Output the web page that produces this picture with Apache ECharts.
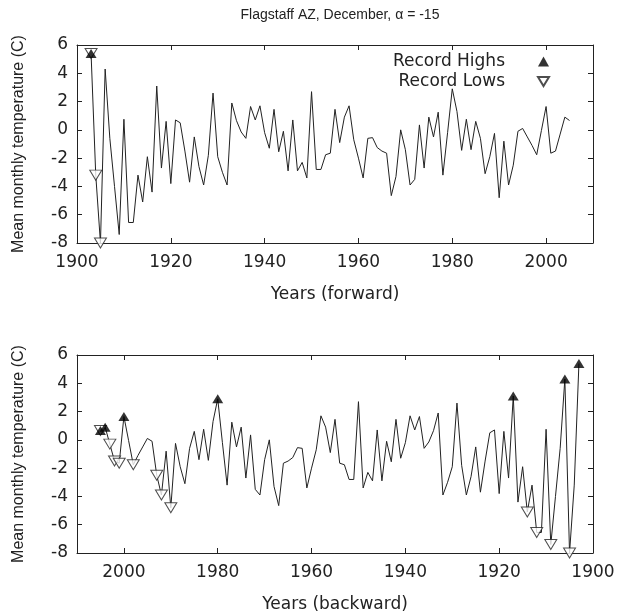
<!DOCTYPE html>
<html><head><meta charset="utf-8">
<script src="https://cdn.jsdelivr.net/npm/echarts@6/dist/echarts.min.js"></script>
<style>html,body{margin:0;padding:0;background:#fff}#c{width:628px;height:615px}</style>
</head><body><div id="c"></div>
<script>
const titleText = 'Flagstaff AZ, December, \u03b1 = -15';
const firstYear = 1903;
// December mean temperatures (C), 1903..2005
const temps = [
  5.4, -3.2, -8.0, 4.3, -0.6, -4.0, -7.4, 0.75, -6.55, -6.55,
  -3.2, -5.1, -1.9, -4.4, 3.1, -2.7, 0.6, -3.8, 0.7, 0.5,
  -1.5, -3.7, -0.5, -2.6, -3.9, -1.8, 2.6, -1.9, -3.0, -3.9,
  1.9, 0.65, -0.15, -0.6, 1.65, 0.7, 1.7, -0.2, -1.3, 1.45,
  -1.55, -0.1, -2.9, 0.7, -2.9, -2.3, -3.4, 2.7, -2.8, -2.8,
  -1.76, -1.65, 1.45, -0.9, 0.9, 1.7, -0.7, -2.0, -3.4, -0.6,
  -0.55, -1.25, -1.5, -1.65, -4.65, -3.3, 0.0, -1.4, -3.9, -3.5,
  0.35, -2.7, 0.9, -0.5, 1.25, -3.2, -0.2, 2.9, 1.3, -1.45,
  0.75, -1.4, 0.6, -0.6, -3.1, -1.9, -0.25, -4.8, -0.8, -3.9,
  -2.5, -0.1, 0.1, -0.5, -1.1, -1.76, -0.05, 1.65, -1.65, -1.5,
  -0.3, 0.9, 0.66
];
const years = temps.map((_, i) => firstYear + i);
const yTicks = { min: -8, max: 6, step: 2 };
const xTicks = { min: 1900, max: 2010, step: 20 };
const labels = {
  yName: 'Mean monthly temperature (C)',
  xTop: 'Years (forward)',
  xBottom: 'Years (backward)',
  highs: 'Record Highs',
  lows: 'Record Lows'
};

// records, computed from the data
function records(order) {
  const hi = [], lo = [];
  let mx = -Infinity, mn = Infinity;
  order.forEach(i => {
    const v = temps[i];
    if (v > mx) { mx = v; hi.push([years[i], v]); }
    if (v < mn) { mn = v; lo.push([years[i], v]); }
  });
  return { hi, lo };
}
const idx = temps.map((_, i) => i);
const fwd = records(idx);
const bwd = records(idx.slice().reverse());
const lineData = years.map((y, i) => [y, temps[i]]);

const FONT = "'Liberation Sans', Arial, sans-serif";
const WFONT = "'DejaVu Sans', sans-serif";
const INK = '#222';
const downTri = 'path://M0,0 L12,0 L6,10 Z';

function xAx(gi, inverse, isMirror, name) {
  return {
    type: 'value', gridIndex: gi, min: xTicks.min, max: xTicks.max, interval: xTicks.step,
    inverse: inverse, position: isMirror ? 'top' : 'bottom',
    name: isMirror ? '' : name, nameLocation: 'middle', nameGap: 43,
    nameTextStyle: { fontFamily: WFONT, fontSize: 17, color: INK },
    axisLine: { show: true, onZero: false, lineStyle: { color: INK, width: 1 } },
    axisTick: { show: true, inside: true, length: 5, lineStyle: { color: INK } },
    axisLabel: { show: !isMirror, fontFamily: WFONT, fontSize: 17, color: INK, margin: 11,
      showMaxLabel: false, formatter: v => String(v) },
    splitLine: { show: false }
  };
}
function yAx(gi, isMirror) {
  return {
    type: 'value', gridIndex: gi, min: yTicks.min, max: yTicks.max, interval: yTicks.step,
    position: isMirror ? 'right' : 'left',
    name: isMirror ? '' : labels.yName, nameLocation: 'middle', nameGap: 50,
    nameTextStyle: { fontFamily: FONT, fontSize: 16, color: INK },
    axisLine: { show: true, onZero: false, lineStyle: { color: INK, width: 1 } },
    axisTick: { show: true, inside: true, length: 5, lineStyle: { color: INK } },
    axisLabel: { show: !isMirror, fontFamily: WFONT, fontSize: 17, color: INK, margin: 9,
      formatter: v => String(v) },
    splitLine: { show: false }
  };
}
function lineSeries(xi, yi) {
  return { type: 'line', xAxisIndex: xi, yAxisIndex: yi, data: lineData, showSymbol: false,
    symbol: 'none', lineStyle: { color: INK, width: 1 }, z: 2, animation: false, silent: true };
}
function hiSeries(xi, yi, d) {
  return { name: labels.highs, type: 'scatter', xAxisIndex: xi, yAxisIndex: yi, data: d,
    symbol: 'triangle', symbolSize: [11, 9], itemStyle: { color: '#000' }, z: 4, animation: false };
}
function loSeries(xi, yi, d) {
  return { name: labels.lows, type: 'scatter', xAxisIndex: xi, yAxisIndex: yi, data: d,
    symbol: downTri, symbolSize: [12, 10],
    itemStyle: { color: '#fff', borderColor: INK, borderWidth: 1 }, z: 3, animation: false };
}

const chart = echarts.init(document.getElementById('c'), null, { renderer: 'canvas' });
chart.setOption({
  backgroundColor: '#fff',
  animation: false,
  title: { text: titleText, left: 335, top: 3, textAlign: 'center',
    textStyle: { fontFamily: FONT, fontSize: 14, fontWeight: 'normal', color: INK } },
  legend: {
    data: [labels.highs, labels.lows], orient: 'vertical', align: 'right',
    right: 78, top: 53, padding: 0, itemWidth: 11, itemHeight: 10, itemGap: 3,
    textStyle: { fontFamily: WFONT, fontSize: 17, color: INK, padding: [0, 28, 0, 0] },
    selectedMode: false
  },
  grid: [
    { left: 77, right: 35, top: 45, height: 198 },
    { left: 77, right: 35, top: 355, height: 198 }
  ],
  xAxis: [
    xAx(0, false, false, labels.xTop), xAx(0, false, true, ''),
    xAx(1, true, false, labels.xBottom), xAx(1, true, true, '')
  ],
  yAxis: [yAx(0, false), yAx(0, true), yAx(1, false), yAx(1, true)],
  series: [
    lineSeries(0, 0), hiSeries(0, 0, fwd.hi), loSeries(0, 0, fwd.lo),
    lineSeries(2, 2), hiSeries(2, 2, bwd.hi), loSeries(2, 2, bwd.lo)
  ]
});
</script>
</body></html>
